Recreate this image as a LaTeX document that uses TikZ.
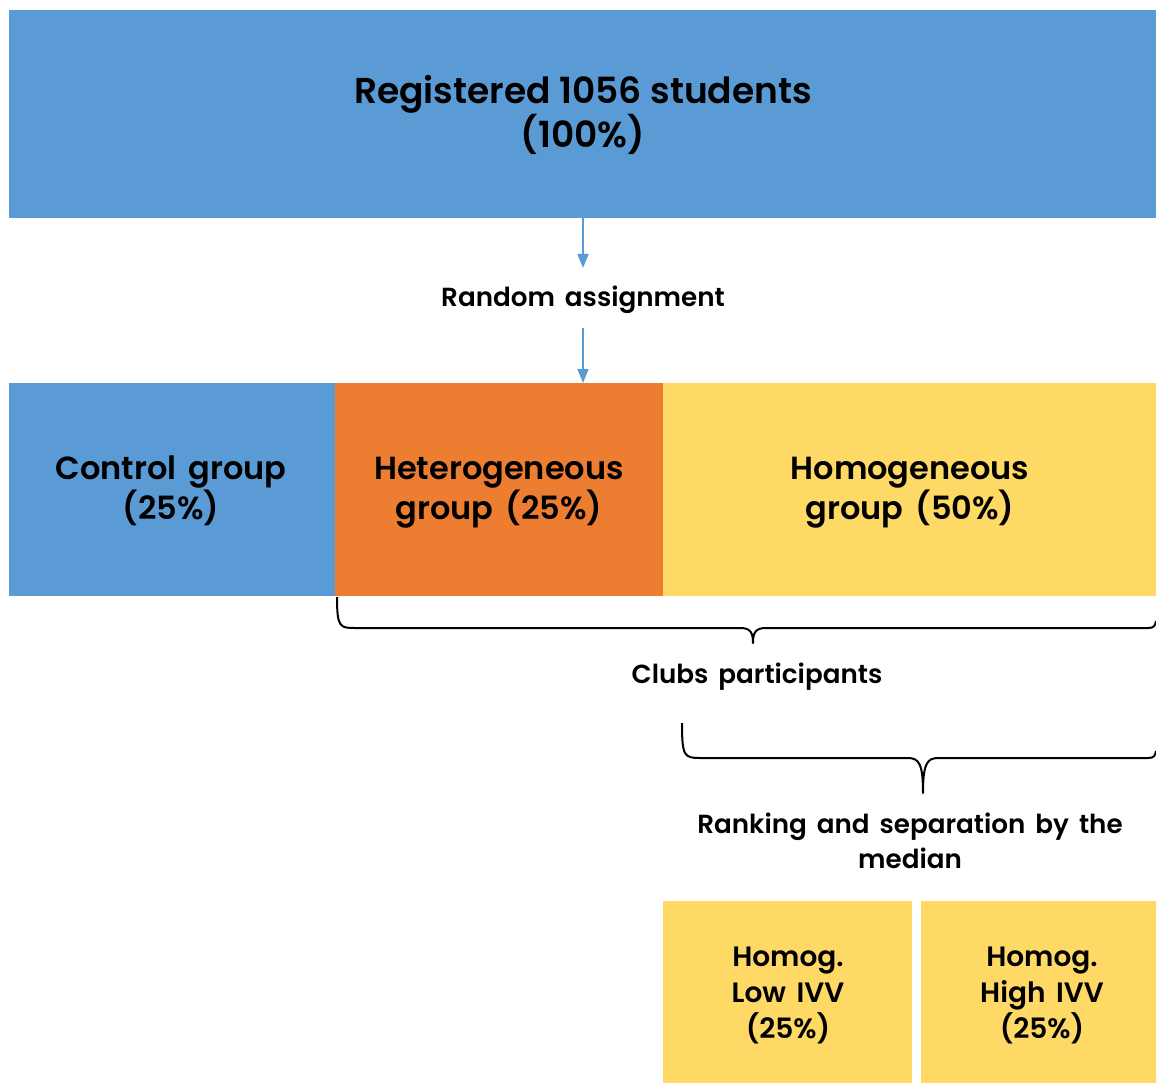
\documentclass[tikz,border=0pt]{standalone}
\usepackage{fontspec}
\setmainfont{Poppins}[BoldFont={Poppins SemiBold}, WordSpace=1.6]
\newfontfamily\titlefont{Poppins SemiBold}[WordSpace=1.0]
\usetikzlibrary{arrows.meta}
\definecolor{cblue}{HTML}{5B9BD5}
\definecolor{corange}{HTML}{ED7D31}
\definecolor{cyellow}{HTML}{FFD966}
\tikzset{
  box/.style={rectangle, inner sep=0pt, outer sep=0pt, draw=none, align=center, anchor=north west},
  lbl/.style={align=center, inner sep=0pt, text depth=0pt},
  bigtxt/.style={font=\fontsize{36}{43}\selectfont\titlefont},
  midtxt/.style={font=\fontsize{32}{40}\selectfont\bfseries},
  smalltxt/.style={font=\fontsize{26.2}{35}\selectfont\bfseries},
  boxtxt/.style={font=\fontsize{28}{36}\selectfont\bfseries},
  arr/.style={draw=cblue, line width=1.6pt, -{Triangle[length=14pt,width=11pt]}},
  brace/.style={draw=black, line width=2pt, line join=round},
}
\begin{document}
\begin{tikzpicture}[x=1pt,y=-1pt]
\useasboundingbox (0,0) rectangle (1156,1083);
% top box
\node[box, fill=cblue, minimum width=1147pt, minimum height=208pt] (top) at (9,10) {};
\node[lbl, bigtxt] (toptxt) at (583,111) {Registered 1056 students\\(100\%)};
% random assignment
\node[lbl, smalltxt] (rand) at (583,296) {Random assignment};
\coordinate (a1e) at (583,268);
\coordinate (a2s) at (583,328);
% row boxes
\node[box, fill=cblue, minimum width=326pt, minimum height=213pt] (ctl) at (9,383) {};
\node[box, fill=corange, minimum width=328pt, minimum height=213pt] (het) at (335,383) {};
\node[box, fill=cyellow, minimum width=493pt, minimum height=213pt] (hom) at (663,383) {};
\node[lbl, midtxt] (ctltxt) at (171,488) {Control group\\(25\%)};
\node[lbl, midtxt] (hettxt) at (499,488) {Heterogeneous\\group (25\%)};
\node[lbl, midtxt] (homtxt) at (910,488) {Homogeneous\\group (50\%)};
\coordinate (a2e) at (583,383);
\draw[arr] (top.south -| a1e) -- (a1e);
\draw[arr] (a2s) -- (a2e);
% brace 1
\draw[brace] (337,597) .. controls (337,628) and (340,628) .. (356,628) -- (740,628)
  .. controls (750,628) and (753,632) .. (753,643)
  .. controls (753,632) and (756,628) .. (766,628) -- (1148,628)
  .. controls (1154,628) and (1155,626) .. (1156,621);
\node[lbl, smalltxt] (clubs) at (757,673) {Clubs participants};
% brace 2
\draw[brace] (682,723) .. controls (682,756) and (684,758) .. (700,758) -- (908,758)
  .. controls (919,758) and (923,764) .. (923,793)
  .. controls (923,764) and (927,758) .. (938,758) -- (1148,758)
  .. controls (1154,758) and (1155,756) .. (1156,751);
\node[lbl, smalltxt] (rank) at (910,841) {Ranking and separation by the\\median};
% bottom boxes
\node[box, fill=cyellow, minimum width=249pt, minimum height=182pt] (low) at (663,901) {};
\node[box, fill=cyellow, minimum width=235pt, minimum height=182pt] (high) at (921,901) {};
\node[lbl, boxtxt] (lowtxt) at (788,993) {Homog.\\Low IVV\\(25\%)};
\node[lbl, boxtxt] (hightxt) at (1042,993) {Homog.\\High IVV\\(25\%)};
\end{tikzpicture}
\end{document}
